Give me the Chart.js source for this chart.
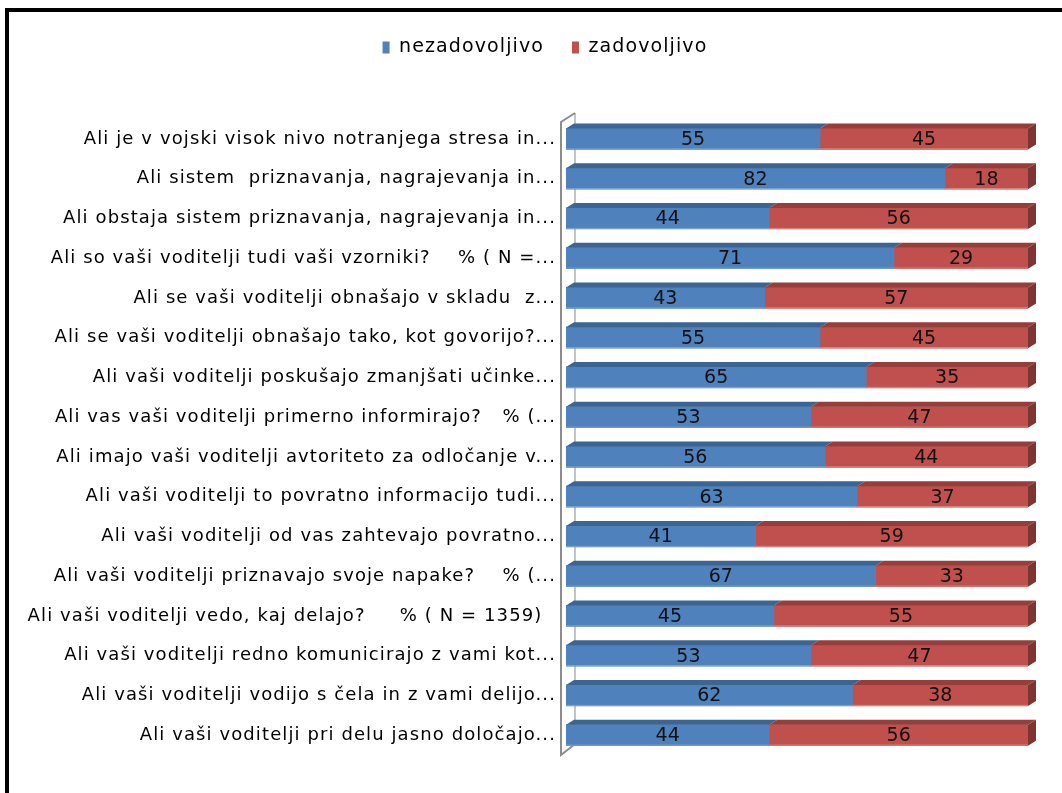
<!DOCTYPE html>
<html>
<head>
<meta charset="utf-8">
<script src="https://cdn.jsdelivr.net/npm/chart.js@4"></script>
<style>
    html, body { margin: 0; padding: 0; background: #fff; overflow: hidden; }
    #wrap { position: relative; width: 1062px; height: 793px; }
    #frame {
        position: absolute; left: 5px; top: 8px;
        width: 2000px; height: 2000px;
        border: 4px solid #000; pointer-events: none;
    }
</style>
</head>
<body>
<div id="wrap">
    <canvas id="surveyChart" width="1062" height="793"></canvas>
    <div id="frame"></div>
</div>
<script>
// Categories (questions) and percentages
const questions = [
    'Ali je v vojski visok nivo notranjega stresa in...',
    'Ali sistem  priznavanja, nagrajevanja in...',
    'Ali obstaja sistem priznavanja, nagrajevanja in...',
    'Ali so vaši voditelji tudi vaši vzorniki?    % ( N =...',
    'Ali se vaši voditelji obnašajo v skladu  z...',
    'Ali se vaši voditelji obnašajo tako, kot govorijo?...',
    'Ali vaši voditelji poskušajo zmanjšati učinke...',
    'Ali vas vaši voditelji primerno informirajo?   % (...',
    'Ali imajo vaši voditelji avtoriteto za odločanje v...',
    'Ali vaši voditelji to povratno informacijo tudi...',
    'Ali vaši voditelji od vas zahtevajo povratno...',
    'Ali vaši voditelji priznavajo svoje napake?    % (...',
    'Ali vaši voditelji vedo, kaj delajo?     % ( N = 1359)  ',
    'Ali vaši voditelji redno komunicirajo z vami kot...',
    'Ali vaši voditelji vodijo s čela in z vami delijo...',
    'Ali vaši voditelji pri delu jasno določajo...'
];
const nezadovoljivo = [55, 82, 44, 71, 43, 55, 65, 53, 56, 63, 41, 67, 45, 53, 62, 44];
const zadovoljivo   = [45, 18, 56, 29, 57, 45, 35, 47, 44, 37, 59, 33, 55, 47, 38, 56];

const seriesNames = ['nezadovoljivo', 'zadovoljivo'];
const frontColors = ['#4F81BD', '#C0504D'];
const topColors   = ['#3D6592', '#953E3C'];
const sideColors  = ['#355A85', '#7E3432'];

const DEPTH_X = 8;
const DEPTH_Y = 5;
const LEGEND_GAP = 52;
const LEGEND_SHIFT = 26;
const LETTER_SPACING = '1.1px';

// wider letter spacing for the axis and legend text
const spacingPlugin = {
    id: 'spacing',
    beforeUpdate(chart) { chart.ctx.letterSpacing = LETTER_SPACING; },
    beforeDraw(chart) { chart.ctx.letterSpacing = LETTER_SPACING; }
};

// extra room under the legend, legend moved right a bit
const legendGapPlugin = {
    id: 'legendGap',
    afterInit(chart) {
        const legend = chart.legend;
        if (!legend) return;
        const fit = legend.fit;
        legend.fit = function() {
            fit.call(this);
            this.height += LEGEND_GAP;
        };
    },
    afterLayout(chart) {
        if (!chart.legend) return;
        chart.legend.left += LEGEND_SHIFT;
        chart.legend.right += LEGEND_SHIFT;
    }
};

// Back wall drawn left of the bars
const wallPlugin = {
    id: 'wall',
    beforeDatasetsDraw(chart) {
        const a = chart.chartArea;
        const ctx = chart.ctx;
        const fx = a.left - 5, bx = a.left + 9;
        ctx.save();
        ctx.lineWidth = 1.5;
        ctx.strokeStyle = '#b0b0b0';
        ctx.beginPath();
        ctx.moveTo(bx, a.top - 6);
        ctx.lineTo(bx, a.bottom - 11);
        ctx.stroke();
        ctx.strokeStyle = '#8c8c8c';
        ctx.lineWidth = 2;
        ctx.beginPath();
        ctx.moveTo(bx, a.top - 6);
        ctx.lineTo(fx, a.top + 3);
        ctx.lineTo(fx, a.bottom);
        ctx.lineTo(bx, a.bottom - 11);
        ctx.stroke();
        ctx.restore();
    }
};

// Top and side faces of the 3D bars, plus value labels
const barDepthPlugin = {
    id: 'barDepth',
    afterDatasetsDraw(chart) {
        const ctx = chart.ctx;
        const last = chart.data.datasets.length - 1;
        ctx.save();
        chart.data.datasets.forEach((ds, di) => {
            const meta = chart.getDatasetMeta(di);
            meta.data.forEach((bar) => {
                const left = Math.min(bar.base, bar.x);
                const right = Math.max(bar.base, bar.x);
                const top = bar.y - bar.height / 2;
                const bottom = bar.y + bar.height / 2;
                ctx.fillStyle = topColors[di];
                ctx.beginPath();
                ctx.moveTo(left, top);
                ctx.lineTo(left + DEPTH_X, top - DEPTH_Y);
                ctx.lineTo(right + DEPTH_X, top - DEPTH_Y);
                ctx.lineTo(right, top);
                ctx.closePath();
                ctx.fill();
                if (di === last) {
                    ctx.fillStyle = sideColors[di];
                    ctx.beginPath();
                    ctx.moveTo(right, top);
                    ctx.lineTo(right + DEPTH_X, top - DEPTH_Y);
                    ctx.lineTo(right + DEPTH_X, bottom - DEPTH_Y);
                    ctx.lineTo(right, bottom);
                    ctx.closePath();
                    ctx.fill();
                }
                // lighter lower edge of the front face
                ctx.fillStyle = di === 0 ? '#7fa3d0' : '#d98884';
                ctx.fillRect(left, bottom - 1, right - left, 1);
            });
        });
        ctx.fillStyle = '#111';
        ctx.letterSpacing = '0px';
        ctx.font = '19px "DejaVu Sans"';
        ctx.textAlign = 'center';
        ctx.textBaseline = 'middle';
        chart.data.datasets.forEach((ds, di) => {
            const meta = chart.getDatasetMeta(di);
            meta.data.forEach((bar, i) => {
                ctx.fillText(String(ds.data[i]), (bar.base + bar.x) / 2, bar.y + 1);
            });
        });
        ctx.restore();
    }
};

new Chart(document.getElementById('surveyChart'), {
    type: 'bar',
    data: {
        labels: questions,
        datasets: [{
            label: seriesNames[0],
            data: nezadovoljivo,
            backgroundColor: frontColors[0],
            barThickness: 21
        }, {
            label: seriesNames[1],
            data: zadovoljivo,
            backgroundColor: frontColors[1],
            barThickness: 21
        }]
    },
    options: {
        indexAxis: 'y',
        responsive: false,
        animation: false,
        layout: {
            padding: { top: 10, left: 10, right: 34, bottom: 38 }
        },
        plugins: {
            legend: {
                position: 'top',
                labels: {
                    boxWidth: 7,
                    boxHeight: 12,
                    padding: 28,
                    color: '#000',
                    font: { family: 'DejaVu Sans', size: 19 }
                }
            },
            tooltip: { enabled: false }
        },
        scales: {
            x: {
                stacked: true,
                display: false,
                min: 0,
                max: 100
            },
            y: {
                stacked: true,
                grid: { display: false },
                border: { display: false },
                ticks: {
                    color: '#000',
                    padding: 2,
                    autoSkip: false,
                    font: { family: 'DejaVu Sans', size: 18 }
                },
                afterFit: function(scale) {
                    scale.width = 556;
                }
            }
        }
    },
    plugins: [spacingPlugin, legendGapPlugin, wallPlugin, barDepthPlugin]
});
</script>
</body>
</html>
